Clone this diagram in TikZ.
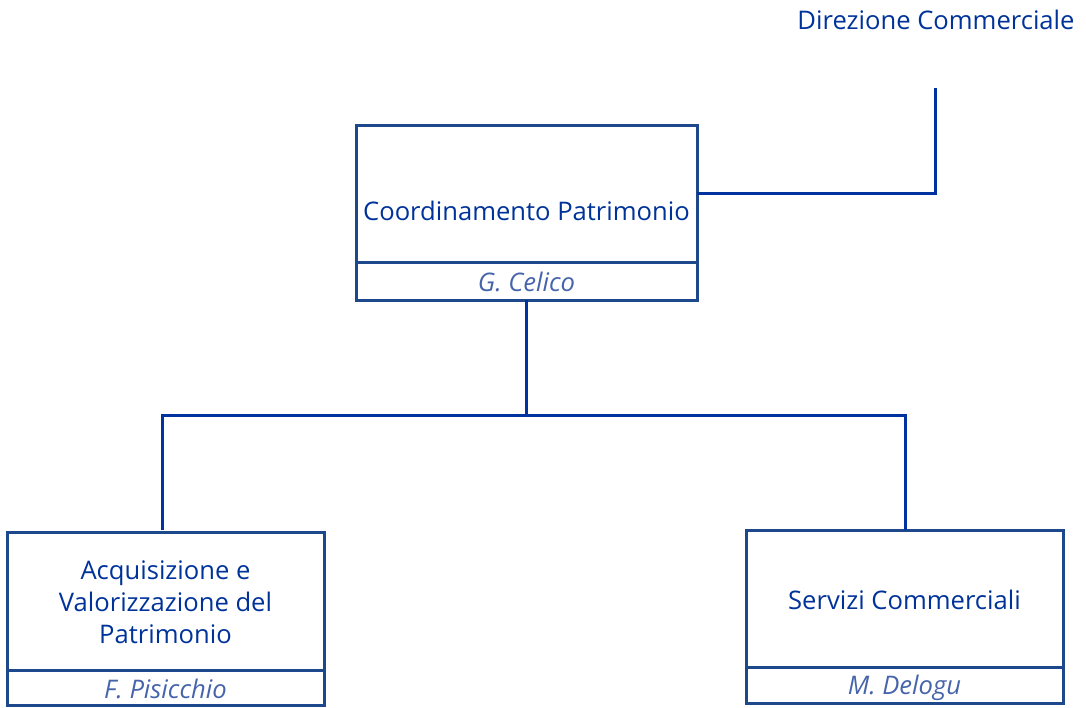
\documentclass[tikz,border=0pt]{standalone}
\usepackage{fontspec}
\setmainfont{Open Sans}
\definecolor{boxc}{RGB}{30,72,140}
\definecolor{txtc}{RGB}{0,51,153}
\definecolor{namec}{RGB}{70,100,170}
\definecolor{linec}{RGB}{0,51,160}
\begin{document}
\begin{tikzpicture}[x=1pt,y=-1pt,
  boxline/.style={draw=boxc,line width=3pt},
  conn/.style={draw=linec,line width=3pt},
  title/.style={text=txtc,font=\fontsize{25.6}{32}\selectfont,align=center,inner sep=0pt},
  pname/.style={text=namec,font=\fontsize{25.6}{30}\selectfont\itshape,inner sep=0pt}]
\useasboundingbox (0,0) rectangle (1086,707);
% boxes
\draw[boxline] (356,125) rectangle (697,300);
\draw[boxline] (356,262) -- (697,262);
\draw[boxline] (7,532) rectangle (324,705);
\draw[boxline] (7,670) -- (324,670);
\draw[boxline] (746,530) rectangle (1063,703);
\draw[boxline] (746,667) -- (1063,667);
% nodes
\node[title] (coord) at (526.5,211) {Coordinamento Patrimonio};
\node[pname] (celico) at (526.5,282) {G. Celico};
\node[title] (acq) at (165.5,602) {Acquisizione e\\Valorizzazione del\\Patrimonio};
\node[pname] (pis) at (165.5,689) {F. Pisicchio};
\node[title] (serv) at (904.5,600) {Servizi Commerciali};
\node[pname] (del) at (904.5,688) {M. Delogu};
\node[title] (dir) at (936,20) {Direzione Commerciale};
% connector anchors
\coordinate (cr) at (697,193);
\coordinate (dc) at (935,88);
\coordinate (cb) at (526,300);
\coordinate (lt) at (162,530);
\coordinate (rt) at (905,530);
\draw[conn] (cr) -- (dc |- cr) -- (dc);
\draw[conn] (cb) -- (526,415);
\draw[conn] (lt) -- (162,415) -- (905,415) -- (rt);
\end{tikzpicture}
\end{document}
